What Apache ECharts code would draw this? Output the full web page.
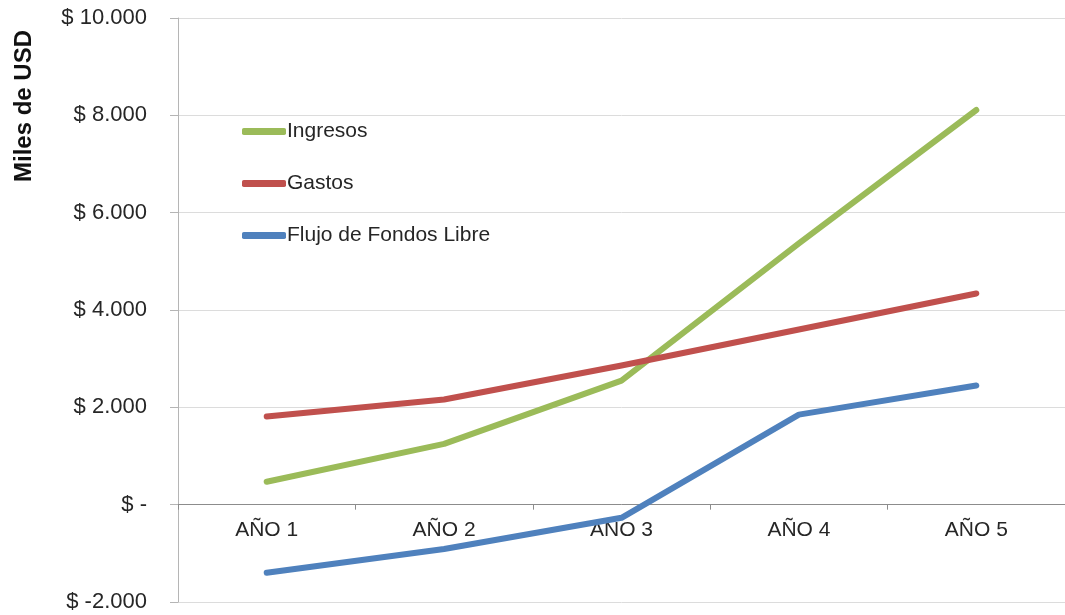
<!DOCTYPE html>
<html>
<head>
<meta charset="utf-8">
<script src="https://cdn.jsdelivr.net/npm/echarts@6/dist/echarts.min.js"></script>
<style>
  html, body { margin: 0; padding: 0; background: #fff; }
  #chart { width: 1065px; height: 615px; }
</style>
</head>
<body>
<div id="chart"></div>
<script>
const categories = ['AÑO 1', 'AÑO 2', 'AÑO 3', 'AÑO 4', 'AÑO 5'];
const ingresos = [470, 1250, 2550, 5370, 8110];
const gastos = [1810, 2160, 2860, 3600, 4340];
const flujo = [-1400, -910, -270, 1850, 2450];
const yMin = -2000, yMax = 10000, yStep = 2000;

const fmt = v => {
    if (v === 0) return '$ -';
    const s = Math.abs(v).toString().replace(/\B(?=(\d{3})+(?!\d))/g, '.');
    return '$ ' + (v < 0 ? '-' : '') + s;
};

var myChart = echarts.init(document.getElementById('chart'));

// grid box
const gTop = 18, gBottom = 13;
const plotH = 615 - gTop - gBottom;
// move the category axis up to the zero line (labels follow it)
const zeroOffset = -plotH * (0 - yMin) / (yMax - yMin);

const font = 'Liberation Sans, Arial, sans-serif';

const mkLine = (name, data, color) => ({
    name: name,
    type: 'line',
    data: data,
    symbol: 'none',
    lineStyle: { width: 6, color: color, cap: 'round', join: 'round' },
    itemStyle: { color: color }
});

myChart.setOption({
    animation: false,
    textStyle: { fontFamily: font },
    grid: { left: 178, right: 0, top: gTop, bottom: gBottom, outerBoundsMode: 'none' },
    legend: {
        orient: 'vertical',
        left: 237,
        top: 116,
        icon: 'roundRect',
        itemWidth: 44,
        itemHeight: 7,
        itemGap: 31,
        data: ['Ingresos', 'Gastos', 'Flujo de Fondos Libre'],
        textStyle: { fontSize: 21, color: '#262626', padding: [0, 0, 0, -4] }
    },
    graphic: [{
        type: 'text',
        x: 24,
        y: 106,
        rotation: Math.PI / 2,
        style: {
            text: 'Miles de USD',
            fontSize: 24,
            fontWeight: 'bold',
            fill: '#111',
            align: 'center',
            verticalAlign: 'middle',
            fontFamily: font
        }
    }],
    xAxis: {
        type: 'category',
        data: categories,
        boundaryGap: true,
        position: 'bottom',
        offset: zeroOffset,
        axisLine: { onZero: false, lineStyle: { color: '#8c8c8c', width: 1 } },
        axisTick: { show: true, length: 5, lineStyle: { color: '#8c8c8c' } },
        axisLabel: { fontSize: 21, color: '#262626', margin: 15 }
    },
    yAxis: {
        type: 'value',
        min: yMin,
        max: yMax,
        interval: yStep,
        axisLine: { show: true, lineStyle: { color: '#b5b5b5' } },
        axisTick: { show: true, length: 8, lineStyle: { color: '#b5b5b5' } },
        splitLine: { lineStyle: { color: '#dcdcdc', width: 1 } },
        axisLabel: { fontSize: 22, color: '#262626', margin: 31, formatter: fmt }
    },
    series: [
        mkLine('Ingresos', ingresos, '#9bbb59'),
        mkLine('Gastos', gastos, '#c0504d'),
        mkLine('Flujo de Fondos Libre', flujo, '#4f81bd')
    ]
});
</script>
</body>
</html>
